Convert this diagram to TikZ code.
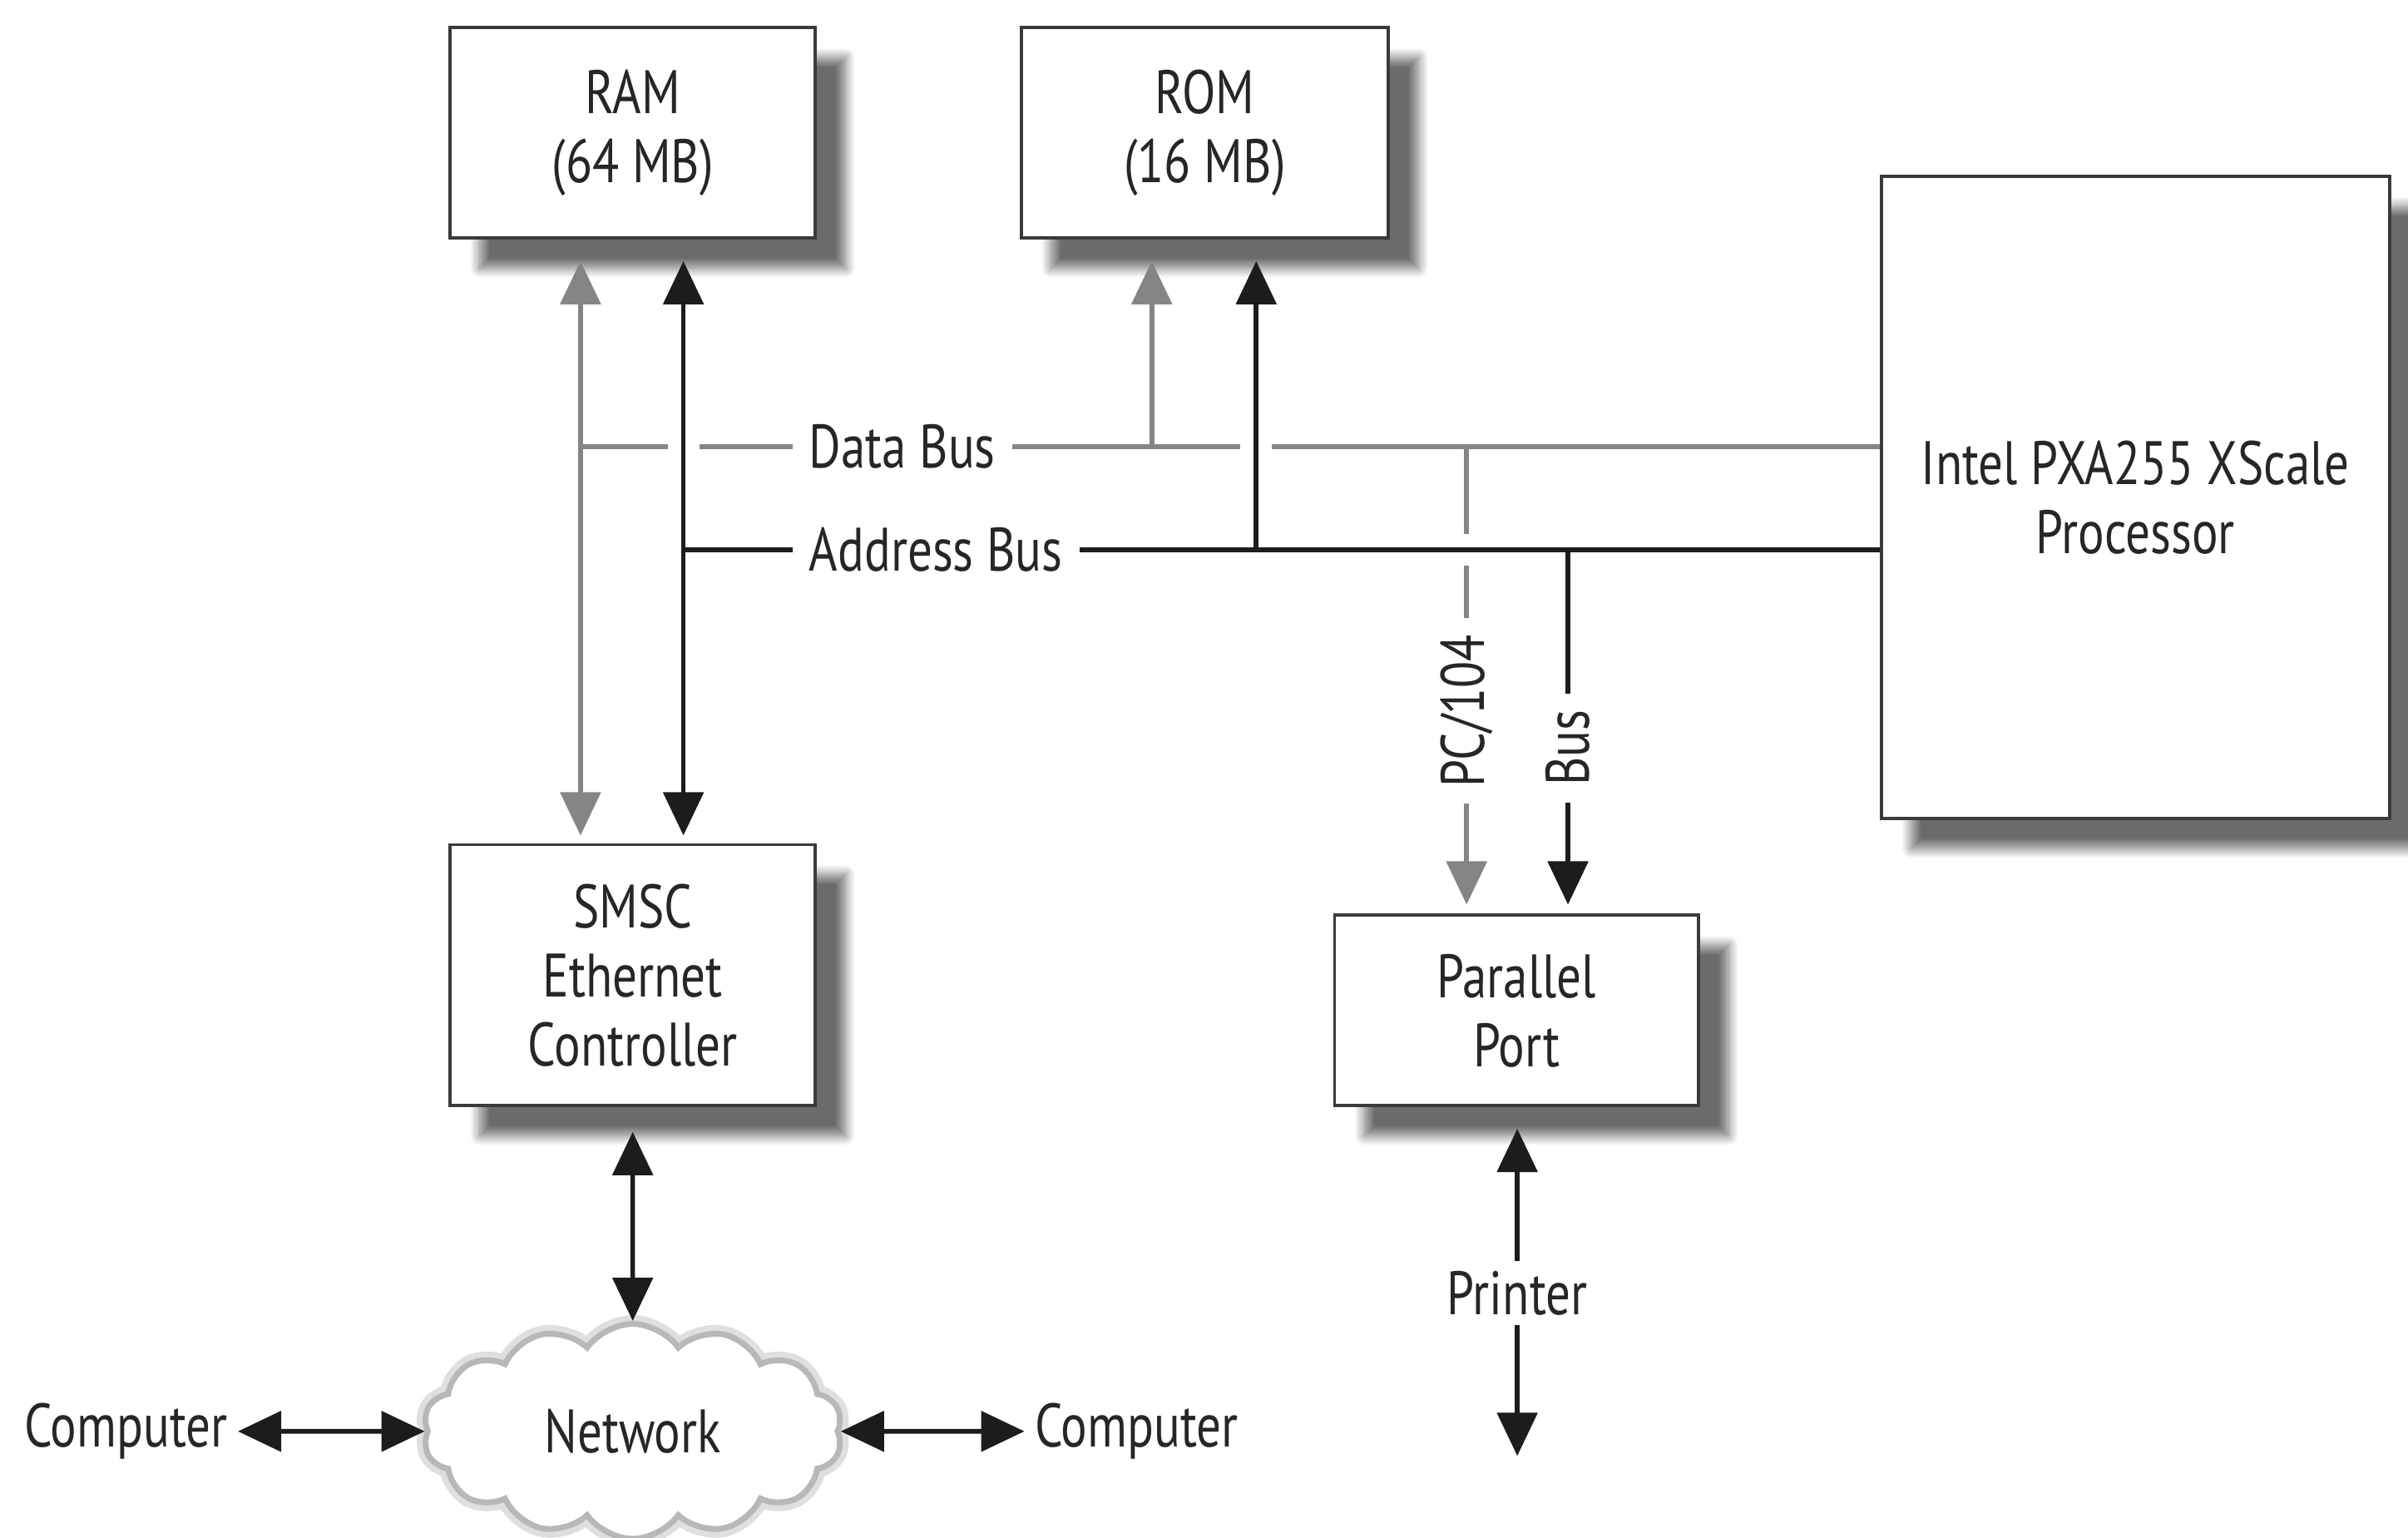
\documentclass[tikz,border=0pt]{standalone}
\usepackage{fontspec}
\setmainfont{PT Sans}[FakeStretch=0.80]
\usetikzlibrary{arrows.meta,shapes.symbols,shadows.blur,calc}
\definecolor{txt}{HTML}{262626}
\definecolor{boxc}{HTML}{3A3A3A}
\definecolor{lg}{HTML}{858585}
\definecolor{dk}{HTML}{1C1C1C}
\definecolor{cloudc}{HTML}{B8B8B8}
\def\PX{0.01846cm}
\newcommand\lblfont{\fontsize{21}{23.6}\selectfont}
\begin{document}
\begin{tikzpicture}[x=0.01846cm,y=-0.01846cm,
  every node/.style={text=txt,font=\lblfont},
  box/.style={draw=boxc,line width=1.1pt,fill=white,align=center,inner sep=0pt,
    blur shadow={shadow xshift=0.36cm,shadow yshift=-0.36cm,shadow blur radius=0.12cm,shadow blur steps=12,shadow opacity=58}},
  gline/.style={draw=lg,line width=1.7pt},
  kline/.style={draw=dk,line width=1.6pt},
  >={Triangle[length=0.52cm,width=0.48cm]},
  lab/.style={fill=white,inner xsep=0.2cm,inner ysep=0.12cm},
  gapfill/.style={fill=white}
]
\useasboundingbox (0,0) rectangle (1568,1001);

% boxes
\node[box,minimum width=238*\PX,minimum height=137*\PX] (ram) at (412,86.5) {RAM\\(64 MB)};
\node[box,minimum width=239*\PX,minimum height=137*\PX] (rom) at (784.5,86.5) {ROM\\(16 MB)};
\node[box,minimum width=331*\PX,minimum height=418*\PX] (cpu) at (1390.5,324) {Intel PXA255 XScale\\Processor};
\node[box,minimum width=238*\PX,minimum height=170*\PX] (smsc) at (412,635) {SMSC\\Ethernet\\Controller};
\node[box,minimum width=237*\PX,minimum height=124*\PX] (pp) at (987.5,658) {Parallel\\Port};
\node[cloud,cloud puffs=14,cloud puff arc=110,aspect=2,minimum width=273*\PX,minimum height=140*\PX,
  draw=cloudc,line width=2pt,fill=white,inner sep=0pt,
  preaction={draw=cloudc!45,line width=6pt}] (net) at (412,932) {Network};

% coordinates
\coordinate (ramG) at (378,170);
\coordinate (ramK) at (445,170);
\coordinate (smG) at (378,544);
\coordinate (smK) at (445,544);
\coordinate (dbL) at (378,291);
\coordinate (abL) at (445,358);
\coordinate (romG) at (750,170);
\coordinate (romK) at (818,170);
\coordinate (dbRom) at (750,291);
\coordinate (abRom) at (818,358);
\coordinate (dbPc) at (955,291);
\coordinate (abPc) at (1021,358);
\coordinate (ppG) at (955,589);
\coordinate (ppK) at (1021,589);
\coordinate (smB) at (412,737);
\coordinate (ppB) at (988,735);
\coordinate (prE) at (988,948);
\coordinate (x1) at (445,291);
\coordinate (x2) at (818,291);
\coordinate (x3) at (955,358);

% gray (data) lines
\draw[gline] (dbL) -- (cpu.west |- dbL);
\draw[gline,<->] (ramG) -- (smG);
\draw[gline,->] (dbRom) -- (romG);
\draw[gline,->] (dbPc) -- (ppG);

% gaps at crossings
\fill[gapfill] ($(x1)+(-0.19cm,-0.1cm)$) rectangle ($(x1)+(0.19cm,0.1cm)$);
\fill[gapfill] ($(x2)+(-0.19cm,-0.1cm)$) rectangle ($(x2)+(0.19cm,0.1cm)$);
\fill[gapfill] ($(x3)+(-0.1cm,-0.19cm)$) rectangle ($(x3)+(0.1cm,0.19cm)$);

% black (address) lines
\draw[kline] (abL) -- (cpu.west |- abL);
\draw[kline,<->] (ramK) -- (smK);
\draw[kline,->] (abRom) -- (romK);
\draw[kline,->] (abPc) -- (ppK);
\draw[kline,<->] (smB) -- (net.north);
\draw[kline,<->] (ppB) -- (prE);

% labels
\node[lab] (dbus) at (587.5,291) {Data Bus};
\node[lab] (abus) at (609.5,358) {Address Bus};
\node[lab,rotate=90,inner xsep=0.2cm,inner ysep=0.05cm] (pcl) at (955,463) {PC/104};
\node[lab,rotate=90,inner xsep=0.2cm,inner ysep=0.05cm] (bl) at (1021,487) {Bus};
\node[lab] (pr) at (988,842) {Printer};

\node (c1) at (82,932) {Computer};
\node (c2) at (740,932) {Computer};
\draw[kline,<->] (c1.east) -- (net.west);
\draw[kline,<->] (net.east) -- (c2.west);
\end{tikzpicture}
\end{document}
